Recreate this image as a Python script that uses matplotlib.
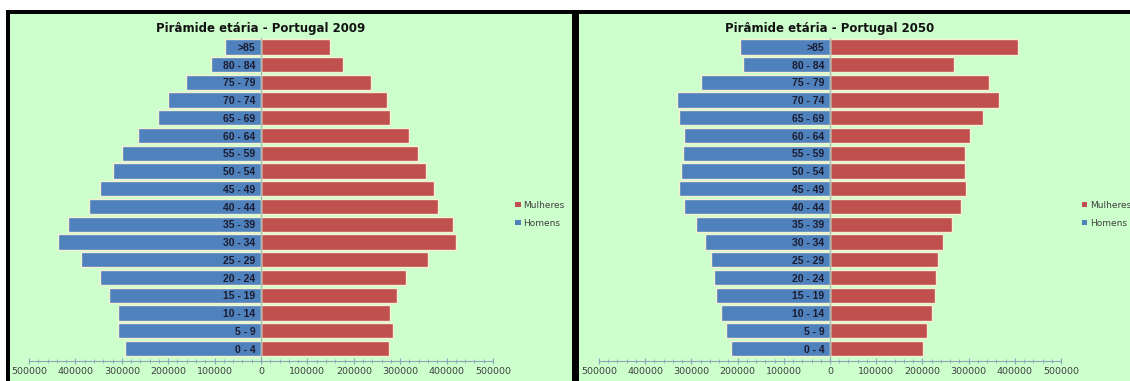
import matplotlib
matplotlib.use("Agg")
import matplotlib.pyplot as plt
from matplotlib.patches import Rectangle, Patch
from matplotlib.ticker import MultipleLocator, FuncFormatter

grupos = ["0 - 4", "5 - 9", "10 - 14", "15 - 19", "20 - 24", "25 - 29", "30 - 34",
          "35 - 39", "40 - 44", "45 - 49", "50 - 54", "55 - 59", "60 - 64",
          "65 - 69", "70 - 74", "75 - 79", "80 - 84", ">85"]

homens_2009 = [293000, 309000, 309000, 327000, 348000, 389000, 438000, 417000, 371000,
               348000, 320000, 300000, 266000, 222000, 201000, 162000, 108000, 78000]
mulheres_2009 = [276000, 284000, 279000, 294000, 313000, 359000, 421000, 414000, 382000,
                 373000, 355000, 339000, 319000, 277000, 272000, 238000, 177000, 148000]

homens_2050 = [214000, 225000, 236000, 246000, 251000, 257000, 270000, 291000, 316000,
               327000, 323000, 319000, 317000, 327000, 331000, 280000, 188000, 194000]
mulheres_2050 = [202000, 211000, 221000, 227000, 230000, 233000, 244000, 263000, 284000,
                 294000, 292000, 292000, 302000, 331000, 366000, 345000, 269000, 408000]

anos = ["2009", "2050"]

AZUL = "#4f81bd"
VERMELHO = "#c0504d"
FUNDO = "#ccffcc"
W, H = 1130, 381


def px(x, y, w, h):
    # pixel box (from top-left) -> figure fraction rectangle
    return (x / W, 1 - (y + h) / H, w / W, h / H)


fig = plt.figure(figsize=(W / 100, H / 100), dpi=100, facecolor="white")

# green panels and black frame, kept behind the axes
x0, y0, w0, h0 = px(10, 14, W - 10, H - 14)
fig.patches.append(Rectangle((x0, y0), w0, h0, transform=fig.transFigure,
                             facecolor=FUNDO, edgecolor="none", zorder=-3))
for bx, by, bw, bh in [(6, 10, W - 6, 4), (6, 10, 4, H - 10), (572, 10, 7, H - 10)]:
    r = px(bx, by, bw, bh)
    fig.patches.append(Rectangle(r[:2], r[2], r[3], transform=fig.transFigure,
                                 facecolor="black", edgecolor="none", zorder=-2))

eixos = [px(29, 38, 464, 323), px(599, 38, 462, 323)]
legendas = [(0.449, 0.438), (0.950, 0.438)]
dados = [(homens_2009, mulheres_2009), (homens_2050, mulheres_2050)]

for i, ano in enumerate(anos):
    ax = fig.add_axes(eixos[i])
    ax.set_facecolor("none")
    hom, mul = dados[i]
    y = range(len(grupos))
    ax.barh(y, mul, height=0.86, color=VERMELHO, edgecolor="#f4f0d4",
            linewidth=1.0, zorder=1)
    ax.barh(y, [-v for v in hom], height=0.86, color=AZUL, edgecolor="#f4f0d4",
            linewidth=1.0, zorder=1)
    ax.axvline(0, color="#a8b8b0", lw=1.0, zorder=1.2)

    ax.set_xlim(-500000, 500000)
    ax.set_ylim(-0.7, 17.5)

    for s in ["top", "right"]:
        ax.spines[s].set_visible(False)
    ax.spines["left"].set_position(("data", 0))
    ax.spines["left"].set_visible(False)
    ax.spines["bottom"].set_color("#8fa4b8")
    ax.spines["bottom"].set_linewidth(0.8)

    ax.set_yticks(list(y))
    ax.set_yticklabels(grupos, family=["Liberation Sans", "DejaVu Sans"],
                       fontweight="bold", fontsize=7.5, color="#1c1c30")
    ax.tick_params(axis="y", length=0, pad=4)
    ax.yaxis.set_zorder(5)

    ax.xaxis.set_major_locator(MultipleLocator(100000))
    ax.xaxis.set_minor_locator(MultipleLocator(20000))
    ax.xaxis.set_major_formatter(FuncFormatter(lambda v, p: f"{abs(int(v))}"))
    ax.tick_params(axis="x", which="major", direction="inout", length=4,
                   color="#8fa4b8", labelsize=6.8, labelcolor="#404040", pad=2)
    ax.tick_params(axis="x", which="minor", direction="inout", length=2.5,
                   color="#8fa4b8")

    ax.set_title(f"Pirâmide etária - Portugal {ano}", fontsize=8.5,
                 fontweight="bold", color="#111111", pad=4)

    alcas = [Patch(facecolor=VERMELHO, edgecolor="none", label="Mulheres"),
             Patch(facecolor=AZUL, edgecolor="none", label="Homens")]
    fig.legend(handles=alcas, loc="center left", bbox_to_anchor=legendas[i],
               frameon=False, fontsize=6.5, handlelength=0.6, handleheight=0.6,
               handletextpad=0.3, labelspacing=1.0, labelcolor="#404040")

fig.savefig("out.png", dpi=100, facecolor=fig.get_facecolor())
